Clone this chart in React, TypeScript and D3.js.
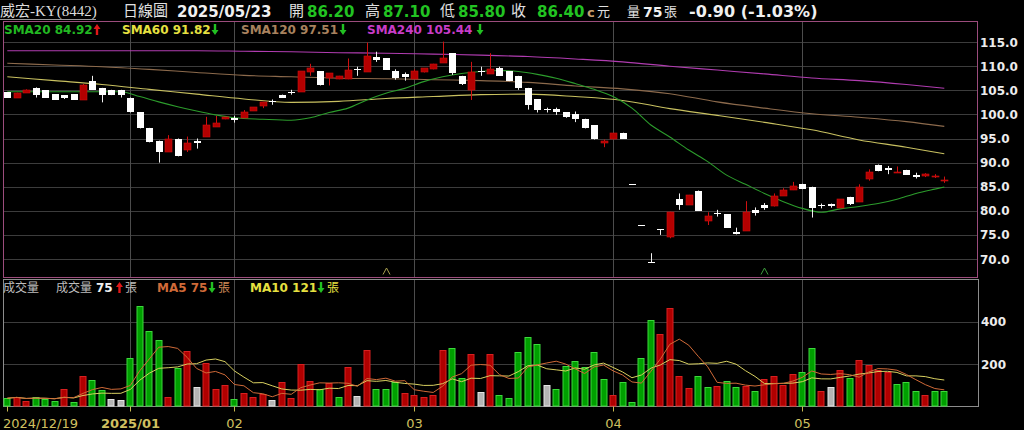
import React from 'react';
import * as d3 from 'd3';

// ---------- data ----------
const xTickIdx = [0, 13, 24, 43, 64, 84];
const xTickLabels = ['2024/12/19', '2025/01', '02', '03', '04', '05'];
const gridMonthIdx = [13, 24, 43, 64, 84];
const priceTicks = [70, 75, 80, 85, 90, 95, 100, 105, 110, 115];
const volTicks = [200, 400];
const prevClose = 104.0;

const opens = [104.6, 103.5, 104.5, 105.5, 105.0, 104.2, 104.0, 104.2, 103.0, 107.0,
  105.5, 105.1, 105.1, 103.5, 100.5, 97.2, 94.55, 92.3, 95.0, 92.6,
  94.5, 95.4, 97.45, 99.0, 99.2, 99.2, 100.8, 101.7, 102.8, 104.1,
  104.6, 104.7, 108.7, 109.0, 107.5, 107.3, 107.3, 109.4, 108.9, 112.0,
  111.6, 109.0, 108.3, 107.3, 108.7, 109.35, 110.7, 112.7, 108.0, 105.1,
  109.1, 108.4, 109.6, 109.0, 108.0, 105.5, 103.1, 101.05, 101.05, 100.4,
  100.1, 99.1, 97.8, 94.1, 94.8, 96.2, 85.5, 77.0, 69.3, 76.2,
  74.6, 82.4, 81.2, 84.2, 77.9, 79.5, 79.3, 75.7, 75.9, 80.2,
  81.3, 80.9, 83.1, 84.3, 85.6, 85.0, 81.1, 81.5, 80.65, 82.9,
  81.9, 86.6, 89.6, 88.9, 88.0, 88.5, 87.4, 87.2, 87.1, 86.2];
const highs = [104.6, 104.5, 105.2, 105.6, 105.0, 104.2, 104.0, 104.2, 106.3, 108.0,
  105.5, 105.1, 105.1, 103.5, 100.5, 97.2, 94.55, 95.7, 95.0, 95.4,
  95.0, 99.5, 99.7, 99.5, 99.7, 100.9, 101.5, 102.6, 103.1, 104.1,
  105.1, 109.0, 110.5, 109.0, 108.5, 108.0, 111.6, 109.9, 114.9, 113.0,
  111.6, 109.35, 108.7, 109.35, 109.6, 110.5, 115.1, 112.7, 108.0, 110.9,
  109.9, 112.7, 109.9, 109.0, 108.0, 105.5, 103.1, 101.4, 101.4, 100.4,
  100.6, 99.1, 97.8, 94.8, 96.1, 96.2, 85.5, 77.0, 71.2, 76.2,
  79.8, 83.6, 83.3, 84.2, 79.7, 80.2, 79.3, 76.5, 82.0, 80.7,
  81.6, 83.6, 84.7, 86.0, 85.6, 85.0, 81.5, 81.5, 82.4, 82.9,
  85.5, 88.6, 89.6, 89.3, 89.2, 88.5, 87.9, 87.8, 87.6, 87.1];
const lows = [103.5, 103.4, 104.5, 103.5, 103.5, 103.0, 103.2, 103.0, 103.0, 105.1,
  102.5, 104.0, 103.5, 100.4, 97.1, 94.2, 90.0, 92.3, 91.3, 92.2,
  92.9, 95.4, 97.45, 99.0, 98.3, 99.2, 100.8, 101.3, 102.0, 103.5,
  104.1, 104.7, 108.0, 106.0, 106.0, 107.3, 107.3, 108.0, 108.9, 110.9,
  109.3, 107.2, 107.0, 107.3, 108.7, 109.35, 110.7, 108.2, 106.1, 103.0,
  108.0, 108.4, 108.0, 106.9, 105.1, 101.0, 100.4, 100.4, 99.9, 99.3,
  98.4, 97.1, 94.8, 93.2, 94.8, 95.0, 85.5, 77.0, 69.3, 75.0,
  74.3, 80.2, 81.2, 80.0, 77.05, 78.8, 76.5, 75.1, 75.9, 79.0,
  80.2, 80.9, 83.1, 84.3, 84.5, 78.6, 80.5, 80.65, 80.65, 81.2,
  81.9, 86.25, 88.2, 87.6, 87.9, 87.5, 86.7, 87.0, 86.8, 85.8];
const closes = [103.5, 104.4, 105.1, 104.0, 103.5, 103.0, 103.5, 103.0, 106.2, 105.1,
  104.0, 104.0, 104.0, 100.4, 97.1, 94.2, 92.2, 95.0, 91.3, 94.1,
  94.1, 97.8, 98.3, 99.5, 98.9, 100.4, 101.5, 102.6, 102.6, 103.5,
  104.5, 109.0, 109.6, 106.0, 108.5, 108.0, 109.2, 109.2, 112.2, 111.3,
  109.3, 107.5, 107.8, 109.0, 109.6, 110.5, 111.6, 108.5, 106.4, 108.7,
  108.7, 109.35, 108.0, 106.9, 105.4, 102.0, 100.9, 100.9, 100.4, 99.5,
  99.1, 97.1, 95.0, 94.5, 96.1, 95.0, 85.5, 77.0, 69.3, 76.2,
  79.8, 81.1, 83.3, 80.0, 79.0, 79.3, 76.5, 75.1, 79.7, 79.5,
  80.5, 83.1, 84.3, 85.2, 84.5, 80.5, 81.0, 81.0, 82.4, 81.5,
  85.0, 88.0, 88.2, 88.4, 88.1, 87.5, 87.1, 87.6, 87.3, 86.4];
const volumes = [39, 47, 28, 44, 36, 27, 81, 20, 145, 125,
  78, 36, 31, 227, 472, 355, 313, 47, 183, 261,
  94, 206, 83, 102, 34, 63, 44, 58, 31, 114,
  41, 200, 120, 83, 109, 47, 188, 50, 266, 83,
  81, 117, 63, 52, 47, 52, 266, 277, 133, 247,
  67, 250, 55, 42, 258, 328, 297, 102, 83, 191,
  214, 188, 258, 128, 53, 117, 23, 231, 406, 341,
  466, 144, 89, 144, 94, 98, 120, 94, 98, 73,
  128, 144, 102, 153, 161, 278, 73, 91, 172, 136,
  219, 195, 172, 164, 106, 117, 73, 55, 73, 75];

// moving-average lines
const sma20Idx = [0, 4, 8, 12, 14, 16, 18, 20, 22, 24, 27, 30, 32, 34, 36, 38, 40, 42, 44, 46, 48, 50, 52, 54, 56, 58, 60, 62, 64, 66, 68, 70, 72, 74, 76, 78, 80, 82, 84, 86, 88, 90, 92, 94, 96, 98, 99];
const sma20 = [104.7, 104.7, 104.7, 104.7, 103.7, 102.6, 101.6, 100.7, 99.9, 99.3, 99.0, 98.8, 99.3, 100.4, 101.3, 103.0, 104.4, 105.4, 106.8, 107.8, 108.5, 108.9, 109.1, 108.9, 108.3, 107.5, 106.4, 105.2, 103.7, 101.3, 97.8, 95.3, 92.6, 90.2, 87.4, 85.5, 83.6, 81.9, 80.5, 79.7, 80.4, 80.9, 81.5, 82.4, 83.6, 84.5, 84.92];
const smaIdx = [0, 5, 10, 15, 20, 25, 30, 35, 40, 45, 50, 55, 60, 65, 70, 75, 80, 85, 90, 95, 99];
const sma60 = [107.8, 107.0, 106.2, 105.2, 104.2, 103.2, 102.5, 102.7, 103.3, 103.7, 104.1, 104.2, 103.7, 102.9, 101.2, 99.8, 98.35, 96.8, 94.7, 93.2, 91.82];
const sma120 = [110.6, 110.25, 109.9, 109.35, 108.7, 108.1, 107.8, 107.5, 107.4, 107.2, 107.0, 106.65, 105.9, 105.3, 104.3, 102.6, 101.3, 100.15, 99.4, 98.5, 97.51];
const sma240 = [113.2, 113.2, 113.2, 113.2, 113.2, 113.1, 113.0, 112.8, 112.7, 112.5, 112.3, 112.0, 111.5, 110.9, 110.0, 109.2, 108.4, 107.55, 107.0, 106.2, 105.44];
const markerIdx = [40, 80];
const markerColors = ['#a8a050', '#3c9c3c'];

const SANS = "'DejaVu Sans', Verdana, sans-serif";
const CJK = "'Noto Sans CJK TC', 'Noto Sans CJK SC', sans-serif";
const SERIFCJK = "'Liberation Serif', 'Noto Sans CJK TC', serif";

const RED = '#b40000';
const GREEN_TXT = '#22c322';

function Arrow({ x, y, up, color }: { x: number; y: number; up: boolean; color: string }) {
  const d = up
    ? `M${x},${y} L${x + 3.5},${y + 5} L${x + 1.2},${y + 5} L${x + 1.2},${y + 11} L${x - 1.2},${y + 11} L${x - 1.2},${y + 5} L${x - 3.5},${y + 5} Z`
    : `M${x},${y + 11} L${x + 3.5},${y + 6} L${x + 1.2},${y + 6} L${x + 1.2},${y} L${x - 1.2},${y} L${x - 1.2},${y + 6} L${x - 3.5},${y + 6} Z`;
  return <path d={d} fill={color} />;
}

export default function App() {
  const n = closes.length;
  const x = d3.scaleLinear().domain([0, n - 1]).range([7.3, 944.3]);
  const yP = d3.scaleLinear().domain([70, 115]).range([259, 42.1]);
  const yV = d3.scaleLinear().domain([0, 400]).range([406.5, 321.7]);

  const P = { l: 3.5, r: 977.5, t: 21.5, b: 277.5 };
  const V = { l: 3.5, r: 978.5, t: 279.5, b: 406.5 };

  const cx = (i: number) => Math.round(x(i));

  const smaLine = (idx: number[], vals: number[]) =>
    d3.line<number>().x((_, k) => x(idx[k])).y((v) => yP(v)).curve(d3.curveMonotoneX)(vals) || '';

  const volMA = (w: number) =>
    volumes.map((_, i) => d3.mean(volumes.slice(Math.max(0, i - w + 1), i + 1)) as number);
  const ma5 = volMA(5);
  const ma10 = volMA(10);
  const vLine = (vals: number[]) =>
    d3.line<number>().x((_, i) => x(i)).y((v) => yV(v))(vals) || '';

  const volColor = (i: number) => {
    const pc = i === 0 ? prevClose : closes[i - 1];
    if (closes[i] > pc + 1e-9) return { fill: '#b00000', stroke: '#d82020' };
    if (closes[i] < pc - 1e-9) return { fill: '#00a000', stroke: '#3cd83c' };
    return { fill: '#b4b4b4', stroke: '#e4e4e4' };
  };

  return (
    <svg width={1024} height={430} style={{ position: 'absolute', left: 0, top: 0, background: '#000' }}>
      <rect x={0} y={0} width={1024} height={430} fill="#000" />

      {/* header */}
      <g fontSize={15}>
        <text x={0} y={16} fill="#dcdcdc" fontFamily={SERIFCJK}>威宏-KY(8442)</text>
        <line x1={0} x2={96} y1={19.5} y2={19.5} stroke="#9a9a9a" />
        <text x={123} y={16} fill="#e0e0e0" fontFamily={CJK}>日線圖</text>
        <text x={177} y={16.5} fill="#f0f0f0" fontFamily={SANS} fontWeight="bold">2025/05/23</text>
        <text x={289} y={16} fill="#e0e0e0" fontFamily={CJK}>開</text>
        <text x={307} y={16.5} fill={GREEN_TXT} fontFamily={SANS} fontWeight="bold">86.20</text>
        <text x={365} y={16} fill="#e0e0e0" fontFamily={CJK}>高</text>
        <text x={383} y={16.5} fill={GREEN_TXT} fontFamily={SANS} fontWeight="bold">87.10</text>
        <text x={440} y={16} fill="#e0e0e0" fontFamily={CJK}>低</text>
        <text x={458} y={16.5} fill={GREEN_TXT} fontFamily={SANS} fontWeight="bold">85.80</text>
        <text x={511} y={16} fill="#e0e0e0" fontFamily={CJK}>收</text>
        <text x={537} y={16.5} fill={GREEN_TXT} fontFamily={SANS} fontWeight="bold">86.40</text>
        <text x={587} y={16.5} fill="#c8a070" fontFamily={SANS} fontWeight="bold" fontSize={13}>c</text>
        <text x={597} y={16} fill="#e0e0e0" fontFamily={CJK} fontSize={13}>元</text>
        <text x={627} y={16} fill="#e0e0e0" fontFamily={CJK} fontSize={13}>量</text>
        <text x={643} y={16.5} fill="#f0f0f0" fontFamily={SANS} fontWeight="bold" fontSize={14}>75</text>
        <text x={664} y={16} fill="#e0e0e0" fontFamily={CJK} fontSize={13}>張</text>
        <text x={689} y={16.5} fill="#f0f0f0" fontFamily={SANS} fontWeight="bold" fontSize={16}>-0.90 (-1.03%)</text>
      </g>

      {/* gridlines */}
      <g stroke="#3c3c3c" strokeWidth={1}>
        {priceTicks.map((t) => (
          <line key={'pg' + t} x1={P.l} x2={P.r} y1={Math.round(yP(t)) + 0.5} y2={Math.round(yP(t)) + 0.5} />
        ))}
        {volTicks.map((t) => (
          <line key={'vg' + t} x1={V.l} x2={V.r} y1={Math.round(yV(t)) + 0.5} y2={Math.round(yV(t)) + 0.5} />
        ))}
      </g>
      <g stroke="#4c4c4c" strokeWidth={1}>
        {gridMonthIdx.map((i) => (
          <g key={'mg' + i}>
            <line x1={cx(i) + 0.5} x2={cx(i) + 0.5} y1={P.t} y2={P.b} />
            <line x1={cx(i) + 0.5} x2={cx(i) + 0.5} y1={V.t} y2={V.b} />
          </g>
        ))}
      </g>

      {/* panel borders */}
      <rect x={P.l} y={P.t} width={P.r - P.l} height={P.b - P.t} fill="none" stroke="#9c4c7c" />
      <rect x={V.l} y={V.t} width={V.r - V.l} height={V.b - V.t} fill="none" stroke="#8c8c8c" />

      {/* legend of price panel */}
      <g fontFamily={SANS} fontWeight="bold" fontSize={12}>
        <text x={4} y={34} fill="#22b822">SMA20 84.92</text>
        <Arrow x={97} y={24} up={true} color="#e01818" />
        <text x={122} y={34} fill="#e6e040">SMA60 91.82</text>
        <Arrow x={215} y={24} up={false} color="#22c022" />
        <text x={241} y={34} fill="#a8825e">SMA120 97.51</text>
        <Arrow x={343} y={24} up={false} color="#22c022" />
        <text x={367} y={34} fill="#c83cc8">SMA240 105.44</text>
        <Arrow x={480} y={24} up={false} color="#22c022" />
      </g>

      {/* moving averages on price */}
      <g fill="none" strokeWidth={1.1}>
        <path d={smaLine(smaIdx, sma240)} stroke="#b03cb0" />
        <path d={smaLine(smaIdx, sma120)} stroke="#8c6a4c" />
        <path d={smaLine(smaIdx, sma60)} stroke="#c8c060" />
        <path d={smaLine(sma20Idx, sma20)} stroke="#2c9c2c" />
      </g>

      {/* candles */}
      <g>
        {closes.map((c, i) => {
          const o = opens[i];
          const up = c > o;
          const col = up ? RED : '#ffffff';
          const top = Math.round(yP(Math.max(o, c)));
          const bot = Math.round(yP(Math.min(o, c)));
          const h = Math.max(1, bot - top);
          const xc = cx(i);
          return (
            <g key={'c' + i}>
              <line x1={xc + 0.5} x2={xc + 0.5} y1={yP(highs[i])} y2={yP(lows[i])} stroke={up ? '#d01010' : '#f0f0f0'} />
              <rect x={xc - 3} y={top} width={7} height={h} fill={col} stroke={up ? '#cc1010' : '#ffffff'} strokeWidth={up ? 0.6 : 0} />
            </g>
          );
        })}
      </g>

      {/* markers */}
      {markerIdx.map((i, k) => (
        <path key={'mk' + i} d={`M${cx(i) - 3},274.5 L${cx(i) + 0.5},268 L${cx(i) + 4},274.5`} fill="none" stroke={markerColors[k]} strokeWidth={1} />
      ))}

      {/* price axis labels */}
      <g fontFamily={SANS} fontWeight="bold" fontSize={12} fill="#ececec">
        {priceTicks.map((t) => (
          <text key={'pl' + t} x={980} y={yP(t) + 4.5}>{t.toFixed(1)}</text>
        ))}
        {volTicks.map((t) => (
          <text key={'vl' + t} x={981} y={yV(t) + 4.5}>{t}</text>
        ))}
      </g>

      {/* volume bars */}
      <g>
        {volumes.map((v, i) => {
          const col = volColor(i);
          const top = Math.round(yV(v));
          return (
            <rect key={'v' + i} x={cx(i) - 3} y={top + 0.5} width={6} height={Math.max(1, V.b - 0.5 - top - 0.5)}
              fill={col.fill} stroke={col.stroke} strokeWidth={1} />
          );
        })}
      </g>

      {/* volume MA lines */}
      <g fill="none" strokeWidth={1}>
        <path d={vLine(ma10)} stroke="#d8d060" />
        <path d={vLine(ma5)} stroke="#d06a38" />
      </g>

      {/* volume legend */}
      <g fontSize={12}>
        <text x={3} y={292} fill="#bdbdbd" fontFamily={CJK}>成交量</text>
        <text x={56} y={292} fill="#bdbdbd" fontFamily={CJK}>成交量</text>
        <text x={96} y={292} fill="#f0f0f0" fontFamily={SANS} fontWeight="bold">75</text>
        <Arrow x={119.5} y={282} up={true} color="#e01818" />
        <text x={125} y={292} fill="#bdbdbd" fontFamily={CJK}>張</text>
        <text x={157} y={292} fill="#d06a38" fontFamily={SANS} fontWeight="bold">MA5 75</text>
        <Arrow x={212} y={282} up={false} color="#22c022" />
        <text x={218} y={292} fill="#d08a58" fontFamily={CJK}>張</text>
        <text x={250} y={292} fill="#e6e040" fontFamily={SANS} fontWeight="bold">MA10 121</text>
        <Arrow x={321} y={282} up={false} color="#22c022" />
        <text x={327} y={292} fill="#e6e040" fontFamily={CJK}>張</text>
      </g>

      {/* x axis ticks and labels */}
      <g>
        {xTickIdx.map((i, k) => (
          <g key={'xt' + i}>
            <line x1={cx(i) + 0.5} x2={cx(i) + 0.5} y1={V.b} y2={V.b + 5} stroke="#c8b850" />
            <text
              x={k === 0 ? 3 : cx(i) + 0.5}
              y={428}
              textAnchor={k === 0 ? 'start' : 'middle'}
              fill="#d0c060"
              fontFamily={SANS}
              fontWeight={k === 1 ? 'bold' : 'normal'}
              fontSize={13}
            >
              {xTickLabels[k]}
            </text>
          </g>
        ))}
      </g>
    </svg>
  );
}
